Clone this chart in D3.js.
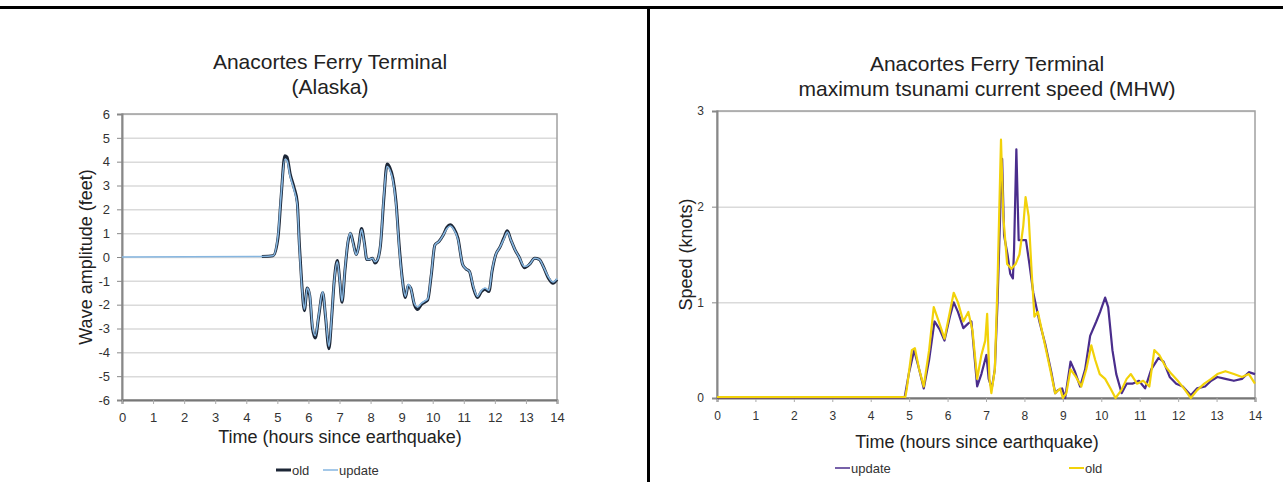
<!DOCTYPE html>
<html>
<head>
<meta charset="utf-8">
<script src="https://cdn.jsdelivr.net/npm/d3@7"></script>
<style>
  body { margin: 0; background: #fff; }
  svg { display: block; font-family: "Liberation Sans", Arial, sans-serif; }
</style>
</head>
<body>
<svg id="chart" width="1283" height="482"></svg>
<script>
// ---- data ----
const xTicks = d3.range(0, 15);
const leftYTicks = d3.range(-6, 7);
const rightYTicks = [0, 1, 2, 3];

// wave amplitude (feet), hours since earthquake
const leftTimeUpdate = [0, 4.5, 4.86, 5.02, 5.12, 5.24, 5.31, 5.41, 5.54, 5.64, 5.71, 5.78, 5.87, 5.96, 6.04, 6.13, 6.22, 6.33, 6.46, 6.55, 6.66, 6.75, 6.83, 6.93, 7.01, 7.08, 7.18, 7.27, 7.35, 7.44, 7.54, 7.61, 7.71, 7.8, 7.88, 7.97, 8.06, 8.14, 8.23, 8.32, 8.43, 8.53, 8.62, 8.72, 8.82, 8.92, 9.02, 9.12, 9.21, 9.29, 9.41, 9.52, 9.63, 9.74, 9.84, 9.95, 10.07, 10.2, 10.33, 10.46, 10.56, 10.68, 10.81, 10.96, 11.07, 11.18, 11.31, 11.44, 11.57, 11.68, 11.81, 11.91, 12.03, 12.16, 12.29, 12.4, 12.52, 12.65, 12.78, 12.95, 13.12, 13.28, 13.43, 13.56, 13.73, 13.87, 14];
const leftUpdate = [0, 0.02, 0.05, 0.9, 2.6, 4.1, 4.05, 3.4, 2.8, 2.2, 0.4, -1.1, -2.2, -1.3, -1.55, -2.9, -3.3, -2.45, -1.45, -2.45, -3.75, -2.45, -1.0, -0.2, -1.0, -1.85, -0.45, 0.65, 1.0, 0.55, 0.1, 0.4, 1.15, 0.55, -0.1, -0.1, -0.05, -0.2, -0.1, 0.55, 2.6, 3.8, 3.65, 3.2, 2.2, 0.4, -0.95, -1.65, -1.15, -1.3, -1.95, -2.1, -1.95, -1.85, -1.75, -0.75, 0.5, 0.65, 0.9, 1.2, 1.3, 1.15, 0.75, -0.3, -0.5, -0.6, -1.25, -1.65, -1.4, -1.3, -1.4, -0.55, 0.1, 0.4, 0.75, 1.05, 0.7, 0.3, 0.0, -0.4, -0.3, -0.05, -0.1, -0.4, -0.85, -1.05, -0.9];
const leftTimeOld = [4.5, 4.86, 5.02, 5.12, 5.24, 5.31, 5.41, 5.54, 5.64, 5.71, 5.78, 5.87, 5.96, 6.04, 6.13, 6.22, 6.33, 6.46, 6.55, 6.66, 6.75, 6.83, 6.93, 7.01, 7.08, 7.18, 7.27, 7.35, 7.44, 7.54, 7.61, 7.71, 7.8, 7.88, 7.97, 8.06, 8.14, 8.23, 8.32, 8.43, 8.53, 8.62, 8.72, 8.82, 8.92, 9.02, 9.12, 9.21, 9.29, 9.41, 9.52, 9.63, 9.74, 9.84, 9.95, 10.07, 10.2, 10.33, 10.46, 10.56, 10.68, 10.81, 10.96, 11.07, 11.18, 11.31, 11.44, 11.57, 11.68, 11.81, 11.91, 12.03, 12.16, 12.29, 12.4, 12.52, 12.65, 12.78, 12.95, 13.12, 13.28, 13.43, 13.56, 13.73, 13.87, 14];
const leftOld = [0.02, 0.05, 0.8, 2.5, 4.25, 4.2, 3.5, 2.9, 2.3, 0.5, -1.0, -2.25, -1.3, -1.6, -3.0, -3.4, -2.5, -1.5, -2.5, -3.85, -2.5, -1.0, -0.15, -1.0, -1.9, -0.5, 0.6, 1.0, 0.6, 0.1, 0.4, 1.2, 0.6, -0.1, -0.1, -0.05, -0.25, -0.1, 0.5, 2.5, 3.9, 3.75, 3.3, 2.3, 0.5, -0.9, -1.7, -1.2, -1.3, -2.0, -2.2, -2.0, -1.9, -1.8, -0.8, 0.5, 0.65, 0.9, 1.25, 1.35, 1.2, 0.8, -0.3, -0.5, -0.6, -1.3, -1.7, -1.45, -1.35, -1.45, -0.6, 0.1, 0.4, 0.8, 1.1, 0.7, 0.3, 0.0, -0.45, -0.3, -0.05, -0.1, -0.4, -0.9, -1.1, -0.95];

// maximum tsunami current speed (knots)
const rightTimeUpdate = [0, 4.88, 4.99, 5.13, 5.26, 5.38, 5.52, 5.66, 5.79, 5.92, 6.06, 6.16, 6.27, 6.41, 6.54, 6.62, 6.77, 6.88, 7.01, 7.07, 7.15, 7.23, 7.3, 7.39, 7.42, 7.47, 7.56, 7.63, 7.7, 7.73, 7.79, 7.85, 7.93, 8.04, 8.13, 8.23, 8.39, 8.55, 8.71, 8.8, 8.87, 8.98, 9.06, 9.2, 9.31, 9.45, 9.58, 9.71, 9.87, 9.97, 10.1, 10.18, 10.29, 10.39, 10.53, 10.66, 10.81, 10.98, 11.14, 11.3, 11.49, 11.62, 11.78, 11.95, 12.12, 12.33, 12.49, 12.7, 12.86, 13.02, 13.23, 13.45, 13.66, 13.84, 14];
const rightUpdate = [0, 0, 0.25, 0.5, 0.3, 0.1, 0.4, 0.8, 0.72, 0.6, 0.85, 1.0, 0.9, 0.73, 0.78, 0.8, 0.12, 0.25, 0.45, 0.2, 0.1, 0.3, 1.0, 2.2, 2.5, 1.7, 1.5, 1.3, 1.25, 1.55, 2.6, 1.65, 1.65, 1.65, 1.4, 1.1, 0.8, 0.55, 0.25, 0.05, 0.08, 0.1, 0.0, 0.38, 0.28, 0.12, 0.3, 0.65, 0.8, 0.9, 1.05, 0.95, 0.5, 0.25, 0.05, 0.15, 0.15, 0.18, 0.1, 0.3, 0.42, 0.38, 0.22, 0.15, 0.12, 0.03, 0.1, 0.12, 0.18, 0.22, 0.2, 0.18, 0.2, 0.27, 0.25];
const rightTimeOld = [0, 4.9, 4.94, 5.07, 5.15, 5.26, 5.38, 5.52, 5.64, 5.77, 5.92, 6.06, 6.16, 6.27, 6.41, 6.54, 6.65, 6.77, 6.88, 6.98, 7.03, 7.09, 7.14, 7.23, 7.3, 7.39, 7.45, 7.55, 7.66, 7.77, 7.87, 7.97, 8.03, 8.11, 8.19, 8.26, 8.35, 8.51, 8.67, 8.8, 8.93, 9.0, 9.09, 9.2, 9.34, 9.48, 9.61, 9.74, 9.84, 9.96, 10.1, 10.24, 10.37, 10.52, 10.66, 10.77, 10.93, 11.09, 11.25, 11.38, 11.51, 11.67, 11.83, 11.99, 12.15, 12.33, 12.49, 12.68, 12.86, 13.02, 13.23, 13.45, 13.66, 13.84, 14];
const rightOld = [0.01, 0.01, 0.1, 0.5, 0.52, 0.3, 0.12, 0.5, 0.95, 0.8, 0.62, 0.9, 1.1, 1.0, 0.8, 0.9, 0.7, 0.2, 0.45, 0.6, 0.88, 0.2, 0.05, 0.3, 1.2, 2.7, 1.9, 1.4, 1.35, 1.4, 1.5, 1.8, 2.1, 1.9, 1.3, 0.85, 0.9, 0.6, 0.3, 0.05, 0.1, 0.0, 0.05, 0.3, 0.22, 0.12, 0.3, 0.55, 0.4, 0.25, 0.2, 0.1, 0.0, 0.08, 0.2, 0.25, 0.15, 0.18, 0.12, 0.5, 0.45, 0.33, 0.25, 0.18, 0.1, 0.0, 0.08, 0.15, 0.2, 0.25, 0.28, 0.25, 0.22, 0.25, 0.15];

const svg = d3.select("#chart");
const textCol = "#222";
const fmt = (d) => String(d); // plain hyphen minus, like the source

// page frame lines
svg.append("line").attr("x1", 0).attr("x2", 1283).attr("y1", 7.5).attr("y2", 7.5)
  .attr("stroke", "#000").attr("stroke-width", 3);
svg.append("line").attr("x1", 648.5).attr("x2", 648.5).attr("y1", 7).attr("y2", 482)
  .attr("stroke", "#000").attr("stroke-width", 3);

function drawPanel(cfg) {
  const x = d3.scaleLinear().domain([0, 14]).range([cfg.left, cfg.right]);
  const y = d3.scaleLinear().domain(cfg.yDomain).range([cfg.bottom, cfg.top]);
  const g = svg.append("g");

  // gridlines
  g.append("g")
    .attr("transform", `translate(${cfg.left},0)`)
    .call(d3.axisLeft(y).tickValues(cfg.yTicks).tickSize(-(cfg.right - cfg.left)).tickFormat(""))
    .call((a) => a.select(".domain").remove())
    .call((a) => a.selectAll("line").attr("stroke", "#dadada").attr("stroke-width", 1.5));

  // frame
  g.append("rect")
    .attr("x", cfg.left).attr("y", cfg.top)
    .attr("width", cfg.right - cfg.left).attr("height", cfg.bottom - cfg.top)
    .attr("fill", "none").attr("stroke", "#a0a0a0").attr("stroke-width", 1.5);

  // y axis
  const ya = g.append("g")
    .attr("transform", `translate(${cfg.left},0)`)
    .call(d3.axisLeft(y).tickValues(cfg.yTicks).tickSize(5).tickPadding(cfg.yPad).tickFormat(fmt));
  ya.select(".domain").attr("stroke", "#888").attr("stroke-width", 2);
  ya.selectAll("line").attr("stroke", "#888");
  ya.selectAll("text").attr("fill", "#333").style("font-size", cfg.tickFont + "px")
    .style("font-family", "Liberation Sans, Arial, sans-serif");

  // x axis
  const xa = g.append("g")
    .attr("transform", `translate(0,${cfg.bottom})`)
    .call(d3.axisBottom(x).tickValues(xTicks).tickSize(4).tickPadding(cfg.xPad).tickFormat(fmt));
  xa.select(".domain").attr("stroke", "#777").attr("stroke-width", 2);
  xa.selectAll("line").attr("stroke", "#aaa");
  xa.selectAll("text").attr("fill", "#333").style("font-size", cfg.tickFont + "px")
    .style("font-family", "Liberation Sans, Arial, sans-serif");

  // series
  cfg.series.forEach((s) => {
    const pts = s.t.map((t, i) => [t, s.v[i]]);
    const line = d3.line().x((d) => x(d[0])).y((d) => y(d[1])).curve(cfg.curve);
    g.append("path").datum(pts)
      .attr("d", line)
      .attr("fill", "none")
      .attr("stroke", s.color)
      .attr("stroke-width", s.width)
      .attr("stroke-linejoin", "round");
  });

  // titles
  cfg.title.forEach((t, i) => {
    g.append("text").attr("x", cfg.titleX).attr("y", cfg.titleY + i * 25)
      .attr("text-anchor", "middle").attr("fill", textCol)
      .style("font-size", "21px").text(t);
  });
  g.append("text")
    .attr("transform", `translate(${cfg.yLabelX},${(cfg.top + cfg.bottom) / 2}) rotate(-90)`)
    .attr("text-anchor", "middle").attr("dy", "0.35em").attr("fill", textCol)
    .style("font-size", "18px").text(cfg.yLabel);
  g.append("text").attr("x", cfg.xLabelX).attr("y", cfg.xLabelY)
    .attr("text-anchor", "middle").attr("dy", "0.35em").attr("fill", textCol)
    .style("font-size", "18px").text("Time (hours since earthquake)");

  // legend
  cfg.legend.forEach((l) => {
    g.append("line").attr("x1", l.x).attr("x2", l.x + 15)
      .attr("y1", cfg.legendY).attr("y2", cfg.legendY)
      .attr("stroke", l.color).attr("stroke-width", l.width);
    g.append("text").attr("x", l.x + 16).attr("y", cfg.legendY).attr("dy", "0.35em")
      .attr("fill", "#333").style("font-size", "13px").text(l.name);
  });
}

drawPanel({
  left: 122, right: 557, top: 114, bottom: 400,
  yDomain: [-6, 6], yTicks: leftYTicks, yPad: 7, xPad: 9, tickFont: 13,
  curve: d3.curveMonotoneX,
  series: [
    { t: leftTimeOld, v: leftOld, color: "#1c2636", width: 3 },
    { t: leftTimeUpdate, v: leftUpdate, color: "#86b6e0", width: 1.6 }
  ],
  title: ["Anacortes Ferry Terminal", "(Alaska)"], titleX: 330, titleY: 69,
  yLabel: "Wave amplitude (feet)", yLabelX: 86,
  xLabelX: 340, xLabelY: 437,
  legendY: 470,
  legend: [
    { name: "old", color: "#1c2636", width: 3, x: 276 },
    { name: "update", color: "#86b6e0", width: 1.5, x: 323 }
  ]
});

drawPanel({
  left: 717, right: 1255, top: 111, bottom: 398,
  yDomain: [0, 3], yTicks: rightYTicks, yPad: 8, xPad: 9, tickFont: 12,
  curve: d3.curveLinear,
  series: [
    { t: rightTimeUpdate, v: rightUpdate, color: "#4a2d8c", width: 2.2 },
    { t: rightTimeOld, v: rightOld, color: "#f2d20a", width: 2.2 }
  ],
  title: ["Anacortes Ferry Terminal", "maximum tsunami current speed (MHW)"], titleX: 987, titleY: 71,
  yLabel: "Speed (knots)", yLabelX: 686,
  xLabelX: 977, xLabelY: 442,
  legendY: 468,
  legend: [
    { name: "update", color: "#4a2d8c", width: 1.5, x: 835 },
    { name: "old", color: "#f2d20a", width: 2, x: 1069 }
  ]
});
</script>
</body>
</html>
